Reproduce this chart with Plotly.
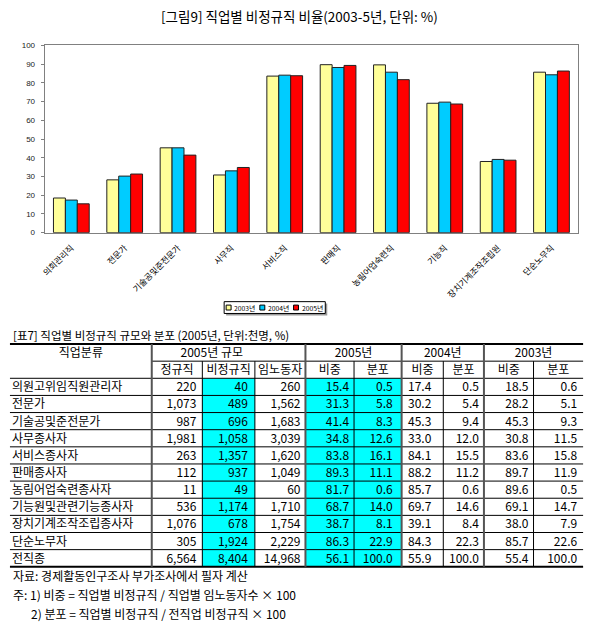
import plotly.graph_objects as go

# ---------------- data ----------------
chart_categories = ["의회관리직", "전문가", "기술공및준전문가", "사무직", "서비스직",
                    "판매직", "농림어업숙련직", "기능직", "장치기계조작조립원", "단순노무직"]
series_names = ["2003년", "2004년", "2005년"]
series_colors = ["#FFFF99", "#00CCFF", "#FF0000"]

occupations = ["의원고위임직원관리자", "전문가", "기술공및준전문가", "사무종사자", "서비스종사자",
               "판매종사자", "농림어업숙련종사자", "기능원및관련기능종사자", "장치기계조작조립종사자",
               "단순노무자", "전직종"]
regular_2005 = [220, 1073, 987, 1981, 263, 112, 11, 536, 1076, 305, 6564]
nonregular_2005 = [40, 489, 696, 1058, 1357, 937, 49, 1174, 678, 1924, 8404]
wage_2005 = [260, 1562, 1683, 3039, 1620, 1049, 60, 1710, 1754, 2229, 14968]
share_2005 = [15.4, 31.3, 41.4, 34.8, 83.8, 89.3, 81.7, 68.7, 38.7, 86.3, 56.1]
dist_2005 = [0.5, 5.8, 8.3, 12.6, 16.1, 11.1, 0.6, 14.0, 8.1, 22.9, 100.0]
share_2004 = [17.4, 30.2, 45.3, 33.0, 84.1, 88.2, 85.7, 69.7, 39.1, 84.3, 55.9]
dist_2004 = [0.5, 5.4, 9.4, 12.0, 15.5, 11.2, 0.6, 14.6, 8.4, 22.3, 100.0]
share_2003 = [18.5, 28.2, 45.3, 30.8, 83.6, 89.7, 89.6, 69.1, 38.0, 85.7, 55.4]
dist_2003 = [0.6, 5.1, 9.3, 11.5, 15.8, 11.9, 0.5, 14.7, 7.9, 22.6, 100.0]

header_top = ["직업분류", "2005년 규모", "2005년", "2004년", "2003년"]
header_sub = ["정규직", "비정규직", "임노동자", "비중", "분포", "비중", "분포", "비중", "분포"]

chart_title = "[그림9] 직업별 비정규직 비율(2003-5년, 단위: %)"
table_title = "[표7] 직업별 비정규직 규모와 분포 (2005년, 단위:천명, %)"
notes = ["자료: 경제활동인구조사 부가조사에서 필자 계산",
         "주: 1) 비중 = 직업별 비정규직 / 직업별 임노동자수 × 100",
         "2) 분포 = 직업별 비정규직 / 전직업 비정규직 × 100"]

# ---------------- layout constants ----------------
W, H = 595, 624
FONT = "Noto Sans CJK KR"


def fx(p):
    return p / W


def fy(p):
    return 1 - p / H


fig = go.Figure()

# ---------------- bar chart ----------------
chart_series = [share_2003[:10], share_2004[:10], share_2005[:10]]
for name, vals, col in zip(series_names, chart_series, series_colors):
    fig.add_trace(go.Bar(x=chart_categories, y=vals, name=name,
                         marker=dict(color=col, line=dict(color="#222222", width=1)),
                         xaxis="x", yaxis="y", showlegend=False, hoverinfo="skip"))

# ---------------- table ----------------
col_edges = [5, 148, 199, 252, 303, 352, 400, 442, 483, 533, 583]
major_edges = {148, 303, 400, 483}
right_pad = [0, 6, 7, 5, 5, 9, 12, 5, 5, 6]
row_top, row_bot, n_rows = 345, 571, 13
row_h = (row_bot - row_top) / n_rows
text_shift = 1.5
row_edges = [row_top + i * row_h for i in range(n_rows + 1)]
row_centers = [(row_edges[i] + row_edges[i + 1]) / 2 + text_shift for i in range(n_rows)]
data_centers = row_centers[2:]

# cyan highlighted cells
highlight_cols = {2, 4, 5}
z = [[1 if c in highlight_cols else None for c in range(len(col_edges) - 1)] for _ in occupations]
fig.add_trace(go.Heatmap(x=col_edges, y=row_edges[2:], z=z, xaxis="x2", yaxis="y2",
                         colorscale=[[0, "#00FFFF"], [1, "#00FFFF"]], zmin=0, zmax=1,
                         showscale=False, hoverinfo="skip"))

text_font = dict(family=FONT, size=12, color="black")

# first column
fig.add_trace(go.Scatter(x=[col_edges[0] + 2] * len(occupations), y=data_centers, text=occupations,
                         mode="text", textposition="middle right", textfont=text_font,
                         xaxis="x2", yaxis="y2", showlegend=False, hoverinfo="skip", cliponaxis=False))

columns = [
    [f"{v:,}" for v in regular_2005],
    [f"{v:,}" for v in nonregular_2005],
    [f"{v:,}" for v in wage_2005],
    [f"{v:.1f}" for v in share_2005],
    [f"{v:.1f}" for v in dist_2005],
    [f"{v:.1f}" for v in share_2004],
    [f"{v:.1f}" for v in dist_2004],
    [f"{v:.1f}" for v in share_2003],
    [f"{v:.1f}" for v in dist_2003],
]
for ci, vals in enumerate(columns, start=1):
    xa = col_edges[ci + 1] - right_pad[ci]
    fig.add_trace(go.Scatter(x=[xa] * len(vals), y=data_centers, text=vals, mode="text",
                             textposition="middle left", textfont=text_font,
                             xaxis="x2", yaxis="y2", showlegend=False, hoverinfo="skip",
                             cliponaxis=False))

# headers
col_centers = [(col_edges[i] + col_edges[i + 1]) / 2 for i in range(len(col_edges) - 1)]
group_spans = [(0, 1), (1, 4), (4, 6), (6, 8), (8, 10)]
group_offset = [0, -17, 0, 0, 0]
top_x = [(col_edges[a] + col_edges[b]) / 2 + off for (a, b), off in zip(group_spans, group_offset)]
fig.add_trace(go.Scatter(x=top_x, y=[row_centers[0]] * len(header_top), text=header_top,
                         mode="text", textposition="middle center", textfont=text_font,
                         xaxis="x2", yaxis="y2", showlegend=False, hoverinfo="skip", cliponaxis=False))
fig.add_trace(go.Scatter(x=col_centers[1:], y=[row_centers[1]] * len(header_sub), text=header_sub,
                         mode="text", textposition="middle center", textfont=text_font,
                         xaxis="x2", yaxis="y2", showlegend=False, hoverinfo="skip", cliponaxis=False))

shapes = []
# horizontal rules
for r, y in enumerate(row_edges):
    if r in (0, n_rows):
        shapes.append(dict(type="line", xref="x2", yref="y2", x0=col_edges[0], x1=col_edges[-1],
                           y0=y, y1=y, line=dict(color="black", width=2)))
    elif r == 1:
        shapes.append(dict(type="line", xref="x2", yref="y2", x0=col_edges[1], x1=col_edges[-1],
                           y0=y, y1=y, line=dict(color="black", width=1)))
    else:
        shapes.append(dict(type="line", xref="x2", yref="y2", x0=col_edges[0], x1=col_edges[-1],
                           y0=y, y1=y, line=dict(color="black", width=1)))
# vertical rules
for e in col_edges[1:-1]:
    if e in major_edges:
        shapes.append(dict(type="line", xref="x2", yref="y2", x0=e, x1=e,
                           y0=row_edges[0], y1=row_edges[-1], line=dict(color="#555555", width=2)))
    else:
        shapes.append(dict(type="line", xref="x2", yref="y2", x0=e, x1=e,
                           y0=row_edges[1], y1=row_edges[-1], line=dict(color="black", width=1)))

# custom legend for the bar chart
lg_x0, lg_x1, lg_y0, lg_y1 = 221, 323, 302, 314
shapes.append(dict(type="rect", xref="paper", yref="paper", x0=fx(lg_x0 + 2), x1=fx(lg_x1 + 2),
                   y0=fy(lg_y1 + 2), y1=fy(lg_y0 + 2), fillcolor="#999999", line=dict(width=0), layer="below"))
shapes.append(dict(type="rect", xref="paper", yref="paper", x0=fx(lg_x0), x1=fx(lg_x1),
                   y0=fy(lg_y1), y1=fy(lg_y0), fillcolor="white", line=dict(color="black", width=1), layer="below"))
annotations = []
for i, (name, col) in enumerate(zip(series_names, series_colors)):
    sx = 223 + i * 34
    shapes.append(dict(type="rect", xref="paper", yref="paper", x0=fx(sx), x1=fx(sx + 5),
                       y0=fy(310.5), y1=fy(305.5), fillcolor=col, line=dict(color="black", width=1)))
    annotations.append(dict(text=name, x=fx(sx + 6), y=fy(308), xref="paper", yref="paper",
                            xanchor="left", yanchor="middle", showarrow=False,
                            font=dict(family=FONT, size=6.8, color="black")))

# titles and notes
annotations.append(dict(text=chart_title, x=fx(297), y=fy(12), xref="paper", yref="paper",
                        xanchor="center", yanchor="middle", showarrow=False,
                        font=dict(family=FONT, size=13.5, color="black")))
annotations.append(dict(text=table_title, x=fx(6), y=fy(336), xref="paper", yref="paper",
                        xanchor="left", yanchor="middle", showarrow=False,
                        font=dict(family=FONT, size=11.5, color="black")))
note_pos = [(6, 580), (6, 599), (24, 618)]
for t, (nx, ny) in zip(notes, note_pos):
    annotations.append(dict(text=t, x=fx(nx), y=fy(ny), xref="paper", yref="paper",
                            xanchor="left", yanchor="middle", showarrow=False,
                            font=dict(family=FONT, size=12, color="black")))

fig.update_layout(
    width=W, height=H, margin=dict(l=0, r=0, t=0, b=0),
    paper_bgcolor="white", plot_bgcolor="rgba(0,0,0,0)",
    barmode="group", bargap=0.33, bargroupgap=0,
    showlegend=False,
    xaxis=dict(domain=[fx(40), fx(578)], anchor="y", showline=True, mirror=True,
               linecolor="#808080", linewidth=1, tickangle=-45,
               tickfont=dict(family=FONT, size=8.5, color="black"),
               ticks="outside", ticklen=6, tickcolor="rgba(0,0,0,0)", showgrid=False),
    yaxis=dict(domain=[fy(232), fy(42)], anchor="x", range=[0, 100], dtick=10,
               showline=True, mirror=True, linecolor="#808080", linewidth=1,
               ticks="outside", ticklen=3, tickcolor="#808080",
               tickfont=dict(family="Liberation Sans", size=8, color="#222222"),
               showgrid=False, zeroline=False, ticklabelstandoff=4),
    xaxis2=dict(domain=[0, 1], range=[0, W], anchor="y2", visible=False, fixedrange=True),
    yaxis2=dict(domain=[fy(590), fy(330)], range=[590, 330], anchor="x2", visible=False, fixedrange=True),
    shapes=shapes, annotations=annotations,
)

fig.write_html("out.html")
